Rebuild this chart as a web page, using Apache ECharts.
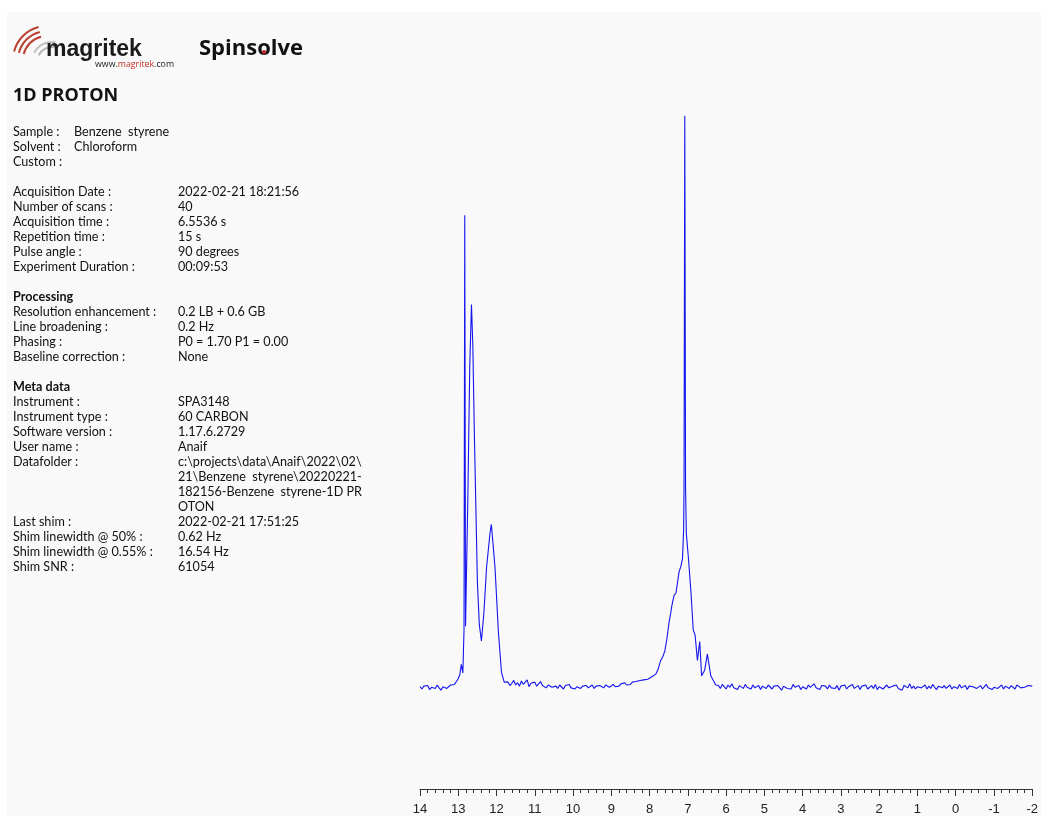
<!DOCTYPE html>
<html>
<head>
<meta charset="utf-8">
<title>1D PROTON</title>
<script src="https://cdn.jsdelivr.net/npm/echarts@6/dist/echarts.min.js"></script>
<style>
  html, body { margin: 0; padding: 0; background: #ffffff; }
  #chart { width: 1041px; height: 816px; }
</style>
</head>
<body>
<div id="chart"></div>
<script>
// ---- Chemical-shift axis (ppm, drawn right-to-left) ----
const PPM_MIN = -2;
const PPM_MAX = 14;
const PPM_TICK = 1;

// ---- Spectrum: flat baseline stretches, sampled every BASE_STEP ppm ----
const BASE_STEP = 0.05;

// 14.00 ... 13.05 ppm
const baseLeftStart = 14.0;
const baseLeft = [0.1, -0.3, 0.2, -0.1, 0.3, -0.4, 0.0, 0.2, -0.2, 0.4,
  -0.1, -0.5, 0.1, 0.3, -0.2, 0.0, 0.4, 0.1, 0.5, 0.8];

// Acid region multiplet (ppm, relative intensity)
const peaksAcid = [
  [13.01, 1.4], [12.96, 2.2], [12.92, 4.0], [12.88, 2.5], [12.85, 10.0],
  [12.83, 82.6], [12.81, 10.7], [12.79, 11.0], [12.75, 33.0], [12.70, 56.0],
  [12.655, 67.0], [12.62, 60.0], [12.58, 44.6], [12.50, 18.4], [12.45, 11.0],
  [12.395, 8.1], [12.33, 13.0], [12.26, 21.0], [12.17, 27.0], [12.135, 28.5],
  [12.04, 21.0], [11.95, 9.6], [11.87, 2.6], [11.80, 0.9]
];

// 11.75 ... 7.90 ppm
const baseMidStart = 11.75;
const baseMid = [0.6, 0.9, 0.3, 0.7, 1.2, 0.4, 0.8, 0.2, 1.1, 0.5, 0.6, 1.3, 0.1,
  0.7, 0.4, 0.9, 0.2, 0.6, 1.0, 0.3, 0.5, -0.1, 0.4, 0.7, 0.0, 0.3,
  0.2, -0.2, 0.4, 0.1, -0.3, 0.3, 0.0, 0.5, -0.1, 0.2, -0.3, 0.1, 0.4, -0.2, 0.2,
  0.0, 0.3, -0.1, 0.1, 0.4, -0.2, 0.2, 0.0, 0.3, 0.1, -0.1, 0.4, 0.2, 0.0, 0.3,
  0.5, 0.1, 0.4, 0.2, 0.6, 0.3, 0.8, 0.4, 0.7, 0.5, 0.9, 0.8, 1.0, 0.9, 1.2, 1.1,
  1.3, 1.5, 1.4, 1.7, 1.8, 2.0];

// Aromatic region (ppm, relative intensity)
const peaksAromatic = [
  [7.84, 2.3], [7.78, 3.1], [7.71, 4.7], [7.65, 5.4], [7.60, 6.4], [7.55, 8.4],
  [7.49, 11.4], [7.45, 12.9], [7.42, 14.2], [7.36, 16.1], [7.31, 16.5],
  [7.27, 16.8], [7.23, 20.2], [7.18, 21.2], [7.14, 22.5],
  [7.11, 27.6], [7.10, 35.0], [7.08, 100.0], [7.06, 35.0], [7.04, 27.0],
  [6.98, 22.2], [6.92, 16.8], [6.86, 10.1], [6.81, 9.1], [6.75, 4.7],
  [6.69, 8.0], [6.64, 2.0], [6.56, 3.0], [6.49, 5.8], [6.40, 2.0], [6.27, 0.4]
];

// 6.20 ... -2.00 ppm
const baseRightStart = 6.20;
const baseRight = [
  0.3, -0.2, 0.5, 0.1, -0.3, 0.4, 0.0, 0.6, -0.1, 0.2, -0.4, 0.3, 0.1, -0.2, 0.5,
  0.0, 0.2, -0.3, 0.4, -0.1, 0.1, 0.3, -0.4, 0.2, 0.0, -0.2, 0.4, 0.1, -0.3, 0.2,
  -0.1, 0.3, 0.0, -0.5, 0.2, 0.4, -0.2, 0.1, -0.3, 0.5, 0.0, -0.1, 0.3, -0.4, 0.1,
  0.2, -0.3, 0.4, 0.0, -0.2, 0.6, -0.1, 0.1, -0.4, 0.3, 0.0, 0.2, -0.3, 0.4, -0.1,
  0.1, -0.2, 0.3, -0.5, 0.2, 0.0, 0.4, -0.3, 0.1, -0.1, 0.5, -0.2, 0.0, 0.3, -0.4,
  0.2, -0.1, 0.4, -0.3, 0.0, 0.3, -0.2, 0.5, -0.4, 0.1, 0.2, -0.3, 0.0, 0.4, -0.1,
  -0.3, 0.2, 0.0, 0.4, -0.2, 0.1, -0.5, 0.3, 0.0, -0.1, 0.6, -0.2, 0.2, -0.3, 0.1,
  0.3, -0.1, 0.0, 0.4, -0.3, 0.2, -0.2, 0.5, 0.0, -0.4, 0.2, 0.1, -0.1, 0.3, -0.2,
  0.0, 0.4, -0.3, 0.1, 0.2, -0.2, 0.5, -0.1, 0.0, 0.3, -0.4, 0.2, -0.1, 0.1, 0.4,
  -0.2, 0.0, 0.3, -0.3, 0.1, 0.5, -0.1, 0.2, -0.4, 0.0, 0.3, -0.2, 0.1, 0.4, -0.3,
  0.2, 0.0, -0.2, 0.3, 0.1, -0.3, 0.4, 0.6, -0.1, 0.2, 0.0, -0.2, 0.3, 0.1, 0.2
];

// ---- Report text ----
const sampleInfo = [
  ['Sample :', 'Benzene  styrene'],
  ['Solvent :', 'Chloroform'],
  ['Custom :', '']
];
const acquisitionInfo = [
  ['Acquisition Date :', '2022-02-21 18:21:56'],
  ['Number of scans :', '40'],
  ['Acquisition time :', '6.5536 s'],
  ['Repetition time :', '15 s'],
  ['Pulse angle :', '90 degrees'],
  ['Experiment Duration :', '00:09:53']
];
const processingInfo = [
  ['Resolution enhancement :', '0.2 LB + 0.6 GB'],
  ['Line broadening :', '0.2 Hz'],
  ['Phasing :', 'P0 = 1.70 P1 = 0.00'],
  ['Baseline correction :', 'None']
];
const metaInfo = [
  ['Instrument :', 'SPA3148'],
  ['Instrument type :', '60 CARBON'],
  ['Software version :', '1.17.6.2729'],
  ['User name :', 'Anaif'],
  ['Datafolder :', 'c:\\projects\\data\\Anaif\\2022\\02\\'],
  ['', '21\\Benzene  styrene\\20220221-'],
  ['', '182156-Benzene  styrene-1D PR'],
  ['', 'OTON'],
  ['Last shim :', '2022-02-21 17:51:25'],
  ['Shim linewidth @ 50% :', '0.62 Hz'],
  ['Shim linewidth @ 0.55% :', '16.54 Hz'],
  ['Shim SNR :', '61054']
];

// ---- Assemble the spectrum trace ----
function stretch(start, values) {
  return values.map((v, i) => [+(start - i * BASE_STEP).toFixed(3), v]);
}
const spectrum = [].concat(
  stretch(baseLeftStart, baseLeft),
  peaksAcid,
  stretch(baseMidStart, baseMid),
  peaksAromatic,
  stretch(baseRightStart, baseRight)
);

// ---- Drawing helpers ----
const TEXT_FONT = 'Lato, "Noto Sans", sans-serif';
const TEXT_SIZE = '12.6px ';
const LINE_H = 15;
const COL_LABEL = 13;
const COL_VALUE = 178;

function textEl(x, y, text, font, fill) {
  return {
    type: 'text', x: x, y: y, silent: true,
    style: { text: text, font: font, fill: fill || '#111', verticalAlign: 'middle', align: 'left' }
  };
}

const graphics = [];
// Panel background
graphics.push({ type: 'rect', shape: { x: 7, y: 12, width: 1034, height: 804 }, style: { fill: '#f9f9f9' }, silent: true, z: -10 });

// Logo waves
[[24, '#b8412f'], [29, '#b8412f'], [34, '#b8412f']].forEach(function (a) {
  graphics.push({ type: 'arc', shape: { cx: 47, cy: 60, r: a[0], startAngle: Math.PI * 1.08, endAngle: Math.PI * 1.42, clockwise: true },
    style: { stroke: a[1], lineWidth: 2, fill: null }, silent: true });
});
[[15, '#b5b5b5'], [20, '#c0c0c0']].forEach(function (a) {
  graphics.push({ type: 'arc', shape: { cx: 52, cy: 62, r: a[0], startAngle: Math.PI * 1.15, endAngle: Math.PI * 1.55, clockwise: true },
    style: { stroke: a[1], lineWidth: 2, fill: null }, silent: true });
});
graphics.push(textEl(46, 50, 'magritek', 'bold 23px "Liberation Sans", Arial, sans-serif', '#1a1a1a'));
graphics.push({
  type: 'text', x: 95, y: 64, silent: true,
  style: {
    text: '{k|www.}{r|magritek}{k|.com}', verticalAlign: 'middle',
    rich: {
      k: { font: '8.8px "Open Sans", sans-serif', fill: '#222' },
      r: { font: '8.8px "Open Sans", sans-serif', fill: '#c0302a' }
    }
  }
});
graphics.push(textEl(199, 49, 'Spinsolve', 'bold 22px "Open Sans", sans-serif', '#111'));
graphics.push({ type: 'circle', shape: { cx: 264, cy: 52, r: 2 }, style: { fill: '#d0202a' }, silent: true });

// Title
graphics.push(textEl(13, 96, '1D PROTON', 'bold 18px "Open Sans", sans-serif', '#111'));

// Sample block (values in a narrower column)
let y = 132;
sampleInfo.forEach(function (r) {
  graphics.push(textEl(COL_LABEL, y, r[0], TEXT_SIZE + TEXT_FONT));
  if (r[1]) graphics.push(textEl(74, y, r[1], TEXT_SIZE + TEXT_FONT));
  y += LINE_H;
});

function block(rows, startY, heading) {
  let yy = startY;
  if (heading) {
    graphics.push(textEl(COL_LABEL, yy, heading, 'bold ' + TEXT_SIZE + TEXT_FONT));
    yy += LINE_H;
  }
  rows.forEach(function (r) {
    if (r[0]) graphics.push(textEl(COL_LABEL, yy, r[0], TEXT_SIZE + TEXT_FONT));
    if (r[1]) graphics.push(textEl(COL_VALUE, yy, r[1], TEXT_SIZE + TEXT_FONT));
    yy += LINE_H;
  });
}
block(acquisitionInfo, 192, null);
block(processingInfo, 297, 'Processing');
block(metaInfo, 387, 'Meta data');

// ---- Chart ----
const chart = echarts.init(document.getElementById('chart'), null, { renderer: 'canvas' });
chart.setOption({
  animation: false,
  backgroundColor: '#ffffff',
  graphic: graphics,
  grid: { left: 420, width: 615, top: 93, height: 697, containLabel: false },
  xAxis: {
    type: 'value',
    inverse: true,
    min: PPM_MIN,
    max: PPM_MAX,
    interval: PPM_TICK,
    axisLine: { show: true, onZero: false, lineStyle: { color: '#333', width: 1 } },
    axisTick: { show: true, length: 7, lineStyle: { color: '#333' } },
    minorTick: { show: true, splitNumber: 5, length: 4, lineStyle: { color: '#333' } },
    splitLine: { show: false },
    axisLabel: { margin: 14, fontFamily: '"Liberation Sans", Arial, sans-serif', fontSize: 13, color: '#222' }
  },
  yAxis: {
    type: 'value', min: -17.8, max: 104, show: false
  },
  series: [{
    type: 'line',
    data: spectrum,
    showSymbol: false,
    symbol: 'none',
    clip: false,
    lineStyle: { color: '#1515ee', width: 1.1 }
  }]
});
</script>
</body>
</html>
